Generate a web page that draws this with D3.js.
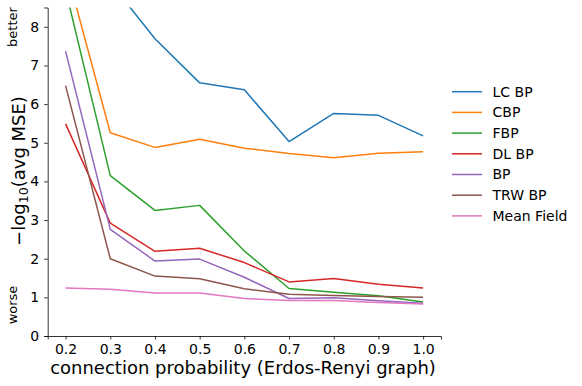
<!DOCTYPE html>
<html>
<head>
<meta charset="utf-8">
<script src="https://cdn.jsdelivr.net/npm/d3@7"></script>
<style>
	body { margin: 0; background: #ffffff; }
	text { font-family: "DejaVu Sans", sans-serif; fill: #000; }
</style>
</head>
<body>
<script>
// x values: connection probability
const probabilities = [0.2, 0.3, 0.4, 0.5, 0.6, 0.7, 0.8, 0.9, 1.0];

// -log10(avg MSE) per method
const lcBp = [10.6, 9.15, 7.69, 6.55, 6.37, 5.03, 5.76, 5.71, 5.18];
const cbp = [9.55, 5.26, 4.88, 5.09, 4.86, 4.72, 4.61, 4.73, 4.77];
const fbp = [8.96, 4.15, 3.25, 3.38, 2.2, 1.23, 1.13, 1.04, 0.88];
const dlBp = [5.49, 2.92, 2.19, 2.27, 1.9, 1.4, 1.49, 1.34, 1.24];
const bp = [7.37, 2.76, 1.94, 1.99, 1.52, 0.97, 0.99, 0.91, 0.85];
const trwBp = [6.48, 2.0, 1.55, 1.48, 1.22, 1.08, 1.05, 1.02, 1.0];
const meanField = [1.24, 1.21, 1.11, 1.11, 0.97, 0.92, 0.92, 0.87, 0.83];

const seriesNames = ["LC BP", "CBP", "FBP", "DL BP", "BP", "TRW BP", "Mean Field"];
const seriesValues = [lcBp, cbp, fbp, dlBp, bp, trwBp, meanField];
const seriesColors = ["#1f77b4", "#ff7f0e", "#2ca02c", "#d62728", "#9467bd", "#8c564b", "#e377c2"];

const xTicks = [0.2, 0.3, 0.4, 0.5, 0.6, 0.7, 0.8, 0.9, 1.0];
const yTicks = [0, 1, 2, 3, 4, 5, 6, 7, 8];

const width = 582;
const height = 386;
const plotLeft = 47.7;
const plotRight = 441;
const plotTop = 7.5;
const plotBottom = 336;

const svg = d3.select("body")
	.append("svg")
	.attr("width", width)
	.attr("height", height);

const x = d3.scaleLinear().domain([0.16, 1.04]).range([plotLeft, plotRight]);
const y = d3.scaleLinear().domain([0, 8.5]).range([plotBottom, plotTop]);

svg.append("defs")
	.append("clipPath")
	.attr("id", "plot-clip")
	.append("rect")
	.attr("x", plotLeft)
	.attr("y", plotTop)
	.attr("width", plotRight - plotLeft)
	.attr("height", plotBottom - plotTop);

// series lines
const line = d3.line()
	.x((d, i) => x(probabilities[i]))
	.y((d) => y(d));

svg.append("g")
	.attr("clip-path", "url(#plot-clip)")
	.selectAll("path")
	.data(seriesValues)
	.join("path")
	.attr("d", (d) => line(d))
	.attr("fill", "none")
	.attr("stroke", (d, i) => seriesColors[i])
	.attr("stroke-width", 1.5)
	.attr("stroke-linejoin", "round");

// axes
const xAxis = svg.append("g")
	.attr("transform", `translate(0,${plotBottom})`)
	.call(d3.axisBottom(x).tickValues(xTicks).tickFormat(d3.format(".1f")).tickSizeOuter(0).tickSize(3.5).tickPadding(5));

const yAxis = svg.append("g")
	.attr("transform", `translate(${plotLeft},0)`)
	.call(d3.axisLeft(y).tickValues(yTicks).tickFormat(d3.format("d")).tickSizeOuter(0).tickSize(3.5).tickPadding(5));

[xAxis, yAxis].forEach((g) => {
	g.selectAll("text")
		.style("font-family", "'DejaVu Sans', sans-serif")
		.style("font-size", "14px")
		.attr("fill", "#000");
	g.selectAll("line").attr("stroke", "#000").attr("stroke-width", 0.8);
	g.select(".domain").attr("stroke", "#000").attr("stroke-width", 0.8);
});

// axis labels
svg.append("text")
	.attr("x", 243)
	.attr("y", 374)
	.attr("text-anchor", "middle")
	.style("font-size", "18px")
	.text("connection probability (Erdos-Renyi graph)");

const yLabel = svg.append("text")
	.attr("transform", `translate(25,171) rotate(-90)`)
	.attr("text-anchor", "middle")
	.style("font-size", "18px");
yLabel.append("tspan").text("\u2212log");
yLabel.append("tspan").attr("dy", 3).style("font-size", "12.6px").text("10");
yLabel.append("tspan").attr("dy", -3).text("(avg MSE)");

svg.append("text")
	.attr("transform", `translate(17,27) rotate(-90)`)
	.attr("text-anchor", "middle")
	.style("font-size", "13px")
	.text("better");

svg.append("text")
	.attr("transform", `translate(17,305) rotate(-90)`)
	.attr("text-anchor", "middle")
	.style("font-size", "13px")
	.text("worse");

// legend
const legend = svg.append("g")
	.selectAll("g")
	.data(seriesNames)
	.join("g")
	.attr("transform", (d, i) => `translate(452,${91.7 + i * 20.7})`);

legend.append("line")
	.attr("x1", 0)
	.attr("x2", 30)
	.attr("stroke", (d, i) => seriesColors[i])
	.attr("stroke-width", 1.5);

legend.append("text")
	.attr("x", 40.5)
	.attr("dy", "0.35em")
	.style("font-size", "14px")
	.text((d) => d);
</script>
</body>
</html>
